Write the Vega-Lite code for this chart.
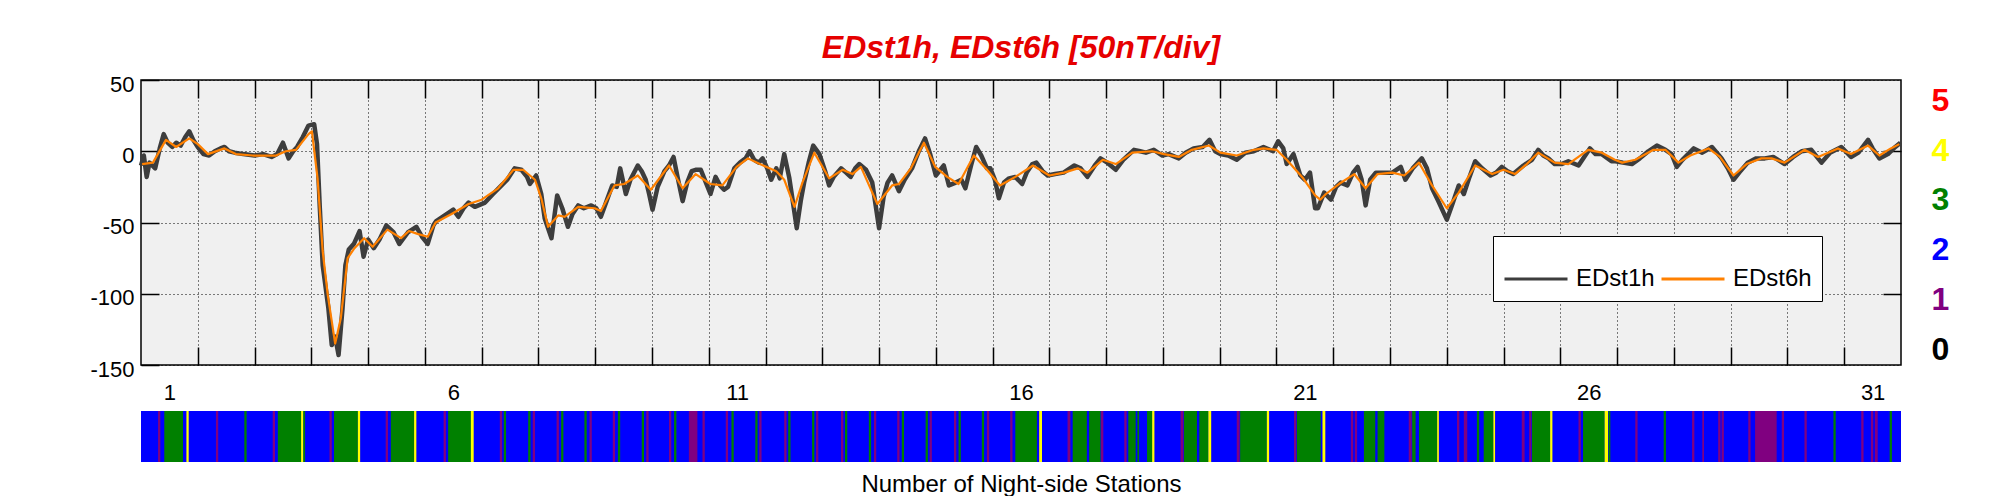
{
  "$schema": "https://vega.github.io/schema/vega-lite/v6.json",
  "autosize": {"type": "pad"},
  "padding": {"left": 0, "top": 31, "right": 0, "bottom": 0},
  "background": "white",
  "spacing": 0,
  "config": {
    "font": "Liberation Sans",
    "view": {"stroke": null},
    "axis": {"labelFont": "Liberation Sans", "titleFont": "Liberation Sans", "labelColor": "#000000", "titleColor": "#000000"},
    "legend": {"labelFont": "Liberation Sans"}
  },
  "datasets": {
    "edst": [
      {"t":1.00,"v":-10,"s":"EDst1h"},{"t":1.05,"v":-3,"s":"EDst1h"},{"t":1.10,"v":-18,"s":"EDst1h"},{"t":1.15,"v":-8,"s":"EDst1h"},{"t":1.25,"v":-12,"s":"EDst1h"},{"t":1.33,"v":2,"s":"EDst1h"},{"t":1.40,"v":12,"s":"EDst1h"},{"t":1.47,"v":6,"s":"EDst1h"},{"t":1.55,"v":3,"s":"EDst1h"},{"t":1.62,"v":6,"s":"EDst1h"},{"t":1.70,"v":4,"s":"EDst1h"},{"t":1.78,"v":10,"s":"EDst1h"},{"t":1.85,"v":14,"s":"EDst1h"},{"t":1.92,"v":8,"s":"EDst1h"},{"t":2.00,"v":3,"s":"EDst1h"},{"t":2.10,"v":-2,"s":"EDst1h"},{"t":2.20,"v":-3,"s":"EDst1h"},{"t":2.30,"v":0,"s":"EDst1h"},{"t":2.40,"v":2,"s":"EDst1h"},{"t":2.47,"v":3,"s":"EDst1h"},{"t":2.55,"v":0,"s":"EDst1h"},{"t":2.65,"v":-1,"s":"EDst1h"},{"t":2.80,"v":-2,"s":"EDst1h"},{"t":3.00,"v":-3,"s":"EDst1h"},{"t":3.15,"v":-2,"s":"EDst1h"},{"t":3.30,"v":-4,"s":"EDst1h"},{"t":3.40,"v":-2,"s":"EDst1h"},{"t":3.50,"v":6,"s":"EDst1h"},{"t":3.60,"v":-5,"s":"EDst1h"},{"t":3.68,"v":0,"s":"EDst1h"},{"t":3.75,"v":3,"s":"EDst1h"},{"t":3.85,"v":10,"s":"EDst1h"},{"t":3.95,"v":18,"s":"EDst1h"},{"t":4.05,"v":19,"s":"EDst1h"},{"t":4.10,"v":5,"s":"EDst1h"},{"t":4.15,"v":-40,"s":"EDst1h"},{"t":4.20,"v":-80,"s":"EDst1h"},{"t":4.30,"v":-110,"s":"EDst1h"},{"t":4.36,"v":-136,"s":"EDst1h"},{"t":4.42,"v":-130,"s":"EDst1h"},{"t":4.48,"v":-143,"s":"EDst1h"},{"t":4.55,"v":-110,"s":"EDst1h"},{"t":4.60,"v":-80,"s":"EDst1h"},{"t":4.66,"v":-69,"s":"EDst1h"},{"t":4.75,"v":-65,"s":"EDst1h"},{"t":4.85,"v":-56,"s":"EDst1h"},{"t":4.92,"v":-74,"s":"EDst1h"},{"t":5.00,"v":-62,"s":"EDst1h"},{"t":5.10,"v":-68,"s":"EDst1h"},{"t":5.20,"v":-62,"s":"EDst1h"},{"t":5.32,"v":-52,"s":"EDst1h"},{"t":5.45,"v":-57,"s":"EDst1h"},{"t":5.55,"v":-65,"s":"EDst1h"},{"t":5.70,"v":-57,"s":"EDst1h"},{"t":5.85,"v":-53,"s":"EDst1h"},{"t":5.95,"v":-60,"s":"EDst1h"},{"t":6.05,"v":-65,"s":"EDst1h"},{"t":6.15,"v":-52,"s":"EDst1h"},
      {"t":6.20,"v":-49,"s":"EDst1h"},{"t":6.35,"v":-45,"s":"EDst1h"},{"t":6.50,"v":-41,"s":"EDst1h"},{"t":6.59,"v":-46,"s":"EDst1h"},{"t":6.68,"v":-40,"s":"EDst1h"},{"t":6.77,"v":-36,"s":"EDst1h"},{"t":6.88,"v":-39,"s":"EDst1h"},{"t":7.06,"v":-36,"s":"EDst1h"},{"t":7.20,"v":-30,"s":"EDst1h"},{"t":7.35,"v":-24,"s":"EDst1h"},{"t":7.45,"v":-20,"s":"EDst1h"},{"t":7.58,"v":-12,"s":"EDst1h"},{"t":7.70,"v":-13,"s":"EDst1h"},{"t":7.80,"v":-18,"s":"EDst1h"},{"t":7.85,"v":-23,"s":"EDst1h"},{"t":7.96,"v":-17,"s":"EDst1h"},{"t":8.05,"v":-30,"s":"EDst1h"},{"t":8.11,"v":-47,"s":"EDst1h"},{"t":8.23,"v":-61,"s":"EDst1h"},{"t":8.33,"v":-31,"s":"EDst1h"},{"t":8.42,"v":-40,"s":"EDst1h"},{"t":8.52,"v":-53,"s":"EDst1h"},{"t":8.60,"v":-44,"s":"EDst1h"},{"t":8.70,"v":-38,"s":"EDst1h"},{"t":8.80,"v":-40,"s":"EDst1h"},{"t":8.93,"v":-38,"s":"EDst1h"},{"t":9.02,"v":-40,"s":"EDst1h"},{"t":9.10,"v":-46,"s":"EDst1h"},{"t":9.20,"v":-35,"s":"EDst1h"},{"t":9.30,"v":-24,"s":"EDst1h"},{"t":9.38,"v":-25,"s":"EDst1h"},{"t":9.44,"v":-12,"s":"EDst1h"},{"t":9.54,"v":-30,"s":"EDst1h"},{"t":9.62,"v":-20,"s":"EDst1h"},{"t":9.75,"v":-10,"s":"EDst1h"},{"t":9.82,"v":-14,"s":"EDst1h"},{"t":9.89,"v":-20,"s":"EDst1h"},{"t":9.95,"v":-30,"s":"EDst1h"},{"t":10.01,"v":-41,"s":"EDst1h"},{"t":10.10,"v":-25,"s":"EDst1h"},{"t":10.22,"v":-14,"s":"EDst1h"},{"t":10.30,"v":-10,"s":"EDst1h"},{"t":10.38,"v":-4,"s":"EDst1h"},{"t":10.45,"v":-18,"s":"EDst1h"},{"t":10.54,"v":-35,"s":"EDst1h"},{"t":10.62,"v":-22,"s":"EDst1h"},{"t":10.70,"v":-14,"s":"EDst1h"},{"t":10.77,"v":-13,"s":"EDst1h"},{"t":10.86,"v":-13,"s":"EDst1h"},{"t":10.95,"v":-22,"s":"EDst1h"},{"t":11.03,"v":-30,"s":"EDst1h"},{"t":11.12,"v":-18,"s":"EDst1h"},{"t":11.20,"v":-24,"s":"EDst1h"},{"t":11.27,"v":-27,"s":"EDst1h"},
      {"t":11.34,"v":-25,"s":"EDst1h"},{"t":11.45,"v":-12,"s":"EDst1h"},{"t":11.55,"v":-8,"s":"EDst1h"},{"t":11.65,"v":-5,"s":"EDst1h"},{"t":11.72,"v":0,"s":"EDst1h"},{"t":11.80,"v":-6,"s":"EDst1h"},{"t":11.88,"v":-8,"s":"EDst1h"},{"t":11.95,"v":-5,"s":"EDst1h"},{"t":12.03,"v":-12,"s":"EDst1h"},{"t":12.10,"v":-20,"s":"EDst1h"},{"t":12.19,"v":-12,"s":"EDst1h"},{"t":12.25,"v":-19,"s":"EDst1h"},{"t":12.33,"v":-2,"s":"EDst1h"},{"t":12.42,"v":-19,"s":"EDst1h"},{"t":12.48,"v":-35,"s":"EDst1h"},{"t":12.55,"v":-54,"s":"EDst1h"},{"t":12.62,"v":-35,"s":"EDst1h"},{"t":12.68,"v":-22,"s":"EDst1h"},{"t":12.76,"v":-8,"s":"EDst1h"},{"t":12.84,"v":4,"s":"EDst1h"},{"t":12.95,"v":-2,"s":"EDst1h"},{"t":13.05,"v":-14,"s":"EDst1h"},{"t":13.12,"v":-24,"s":"EDst1h"},{"t":13.20,"v":-18,"s":"EDst1h"},{"t":13.33,"v":-12,"s":"EDst1h"},{"t":13.42,"v":-15,"s":"EDst1h"},{"t":13.50,"v":-18,"s":"EDst1h"},{"t":13.58,"v":-12,"s":"EDst1h"},{"t":13.65,"v":-9,"s":"EDst1h"},{"t":13.77,"v":-13,"s":"EDst1h"},{"t":13.88,"v":-22,"s":"EDst1h"},{"t":14.00,"v":-54,"s":"EDst1h"},{"t":14.08,"v":-32,"s":"EDst1h"},{"t":14.15,"v":-22,"s":"EDst1h"},{"t":14.23,"v":-17,"s":"EDst1h"},{"t":14.35,"v":-28,"s":"EDst1h"},{"t":14.45,"v":-20,"s":"EDst1h"},{"t":14.58,"v":-12,"s":"EDst1h"},{"t":14.70,"v":0,"s":"EDst1h"},{"t":14.81,"v":9,"s":"EDst1h"},{"t":14.90,"v":-2,"s":"EDst1h"},{"t":15.00,"v":-17,"s":"EDst1h"},{"t":15.14,"v":-10,"s":"EDst1h"},{"t":15.23,"v":-24,"s":"EDst1h"},{"t":15.35,"v":-22,"s":"EDst1h"},{"t":15.45,"v":-20,"s":"EDst1h"},{"t":15.52,"v":-26,"s":"EDst1h"},{"t":15.62,"v":-10,"s":"EDst1h"},{"t":15.71,"v":3,"s":"EDst1h"},{"t":15.80,"v":-3,"s":"EDst1h"},{"t":15.90,"v":-12,"s":"EDst1h"},{"t":15.96,"v":-12,"s":"EDst1h"},{"t":16.04,"v":-20,"s":"EDst1h"},{"t":16.11,"v":-33,"s":"EDst1h"},{"t":16.20,"v":-22,"s":"EDst1h"},{"t":16.29,"v":-19,"s":"EDst1h"},{"t":16.40,"v":-18,"s":"EDst1h"},{"t":16.52,"v":-23,"s":"EDst1h"},
      {"t":16.60,"v":-15,"s":"EDst1h"},{"t":16.70,"v":-9,"s":"EDst1h"},{"t":16.77,"v":-8,"s":"EDst1h"},{"t":16.88,"v":-14,"s":"EDst1h"},{"t":16.97,"v":-17,"s":"EDst1h"},{"t":17.10,"v":-16,"s":"EDst1h"},{"t":17.25,"v":-15,"s":"EDst1h"},{"t":17.44,"v":-10,"s":"EDst1h"},{"t":17.55,"v":-12,"s":"EDst1h"},{"t":17.67,"v":-18,"s":"EDst1h"},{"t":17.80,"v":-10,"s":"EDst1h"},{"t":17.90,"v":-5,"s":"EDst1h"},{"t":18.02,"v":-8,"s":"EDst1h"},{"t":18.17,"v":-13,"s":"EDst1h"},{"t":18.30,"v":-6,"s":"EDst1h"},{"t":18.49,"v":1,"s":"EDst1h"},{"t":18.60,"v":0,"s":"EDst1h"},{"t":18.70,"v":-1,"s":"EDst1h"},{"t":18.84,"v":1,"s":"EDst1h"},{"t":18.99,"v":-3,"s":"EDst1h"},{"t":19.10,"v":-2,"s":"EDst1h"},{"t":19.28,"v":-5,"s":"EDst1h"},{"t":19.40,"v":-1,"s":"EDst1h"},{"t":19.54,"v":2,"s":"EDst1h"},{"t":19.70,"v":3,"s":"EDst1h"},{"t":19.82,"v":8,"s":"EDst1h"},{"t":19.92,"v":0,"s":"EDst1h"},{"t":20.01,"v":-2,"s":"EDst1h"},{"t":20.15,"v":-3,"s":"EDst1h"},{"t":20.30,"v":-6,"s":"EDst1h"},{"t":20.45,"v":-1,"s":"EDst1h"},{"t":20.60,"v":0,"s":"EDst1h"},{"t":20.77,"v":3,"s":"EDst1h"},{"t":20.94,"v":0,"s":"EDst1h"},{"t":21.03,"v":7,"s":"EDst1h"},{"t":21.12,"v":2,"s":"EDst1h"},{"t":21.18,"v":-9,"s":"EDst1h"},{"t":21.30,"v":-2,"s":"EDst1h"},{"t":21.42,"v":-17,"s":"EDst1h"},{"t":21.50,"v":-20,"s":"EDst1h"},{"t":21.59,"v":-15,"s":"EDst1h"},{"t":21.68,"v":-40,"s":"EDst1h"},
      {"t":21.73,"v":-40,"s":"EDst1h"},{"t":21.84,"v":-29,"s":"EDst1h"},{"t":21.96,"v":-34,"s":"EDst1h"},{"t":22.05,"v":-25,"s":"EDst1h"},{"t":22.13,"v":-22,"s":"EDst1h"},{"t":22.25,"v":-24,"s":"EDst1h"},{"t":22.35,"v":-15,"s":"EDst1h"},{"t":22.43,"v":-11,"s":"EDst1h"},{"t":22.50,"v":-20,"s":"EDst1h"},{"t":22.57,"v":-38,"s":"EDst1h"},{"t":22.65,"v":-20,"s":"EDst1h"},{"t":22.75,"v":-15,"s":"EDst1h"},{"t":22.90,"v":-15,"s":"EDst1h"},{"t":23.04,"v":-15,"s":"EDst1h"},{"t":23.19,"v":-11,"s":"EDst1h"},{"t":23.27,"v":-20,"s":"EDst1h"},{"t":23.40,"v":-12,"s":"EDst1h"},{"t":23.56,"v":-5,"s":"EDst1h"},{"t":23.65,"v":-12,"s":"EDst1h"},{"t":23.74,"v":-26,"s":"EDst1h"},{"t":23.85,"v":-35,"s":"EDst1h"},{"t":24.00,"v":-48,"s":"EDst1h"},{"t":24.09,"v":-38,"s":"EDst1h"},{"t":24.21,"v":-24,"s":"EDst1h"},{"t":24.30,"v":-30,"s":"EDst1h"},{"t":24.40,"v":-18,"s":"EDst1h"},{"t":24.50,"v":-7,"s":"EDst1h"},{"t":24.62,"v":-12,"s":"EDst1h"},{"t":24.77,"v":-17,"s":"EDst1h"},{"t":24.87,"v":-15,"s":"EDst1h"},{"t":24.97,"v":-11,"s":"EDst1h"},{"t":25.07,"v":-14,"s":"EDst1h"},{"t":25.17,"v":-16,"s":"EDst1h"},{"t":25.35,"v":-10,"s":"EDst1h"},{"t":25.50,"v":-6,"s":"EDst1h"},{"t":25.61,"v":1,"s":"EDst1h"},{"t":25.70,"v":-3,"s":"EDst1h"},{"t":25.79,"v":-5,"s":"EDst1h"},{"t":25.90,"v":-9,"s":"EDst1h"},{"t":26.02,"v":-9,"s":"EDst1h"},{"t":26.14,"v":-7,"s":"EDst1h"},{"t":26.32,"v":-10,"s":"EDst1h"},{"t":26.52,"v":2,"s":"EDst1h"},{"t":26.62,"v":-2,"s":"EDst1h"},{"t":26.73,"v":-2,"s":"EDst1h"},{"t":26.90,"v":-7,"s":"EDst1h"},
      {"t":26.97,"v":-7,"s":"EDst1h"},{"t":27.10,"v":-8,"s":"EDst1h"},{"t":27.26,"v":-9,"s":"EDst1h"},{"t":27.40,"v":-5,"s":"EDst1h"},{"t":27.55,"v":0,"s":"EDst1h"},{"t":27.70,"v":4,"s":"EDst1h"},{"t":27.85,"v":1,"s":"EDst1h"},{"t":27.96,"v":-2,"s":"EDst1h"},{"t":28.05,"v":-11,"s":"EDst1h"},{"t":28.15,"v":-6,"s":"EDst1h"},{"t":28.35,"v":2,"s":"EDst1h"},{"t":28.50,"v":-1,"s":"EDst1h"},{"t":28.67,"v":3,"s":"EDst1h"},{"t":28.84,"v":-5,"s":"EDst1h"},{"t":28.95,"v":-12,"s":"EDst1h"},{"t":29.05,"v":-20,"s":"EDst1h"},{"t":29.15,"v":-15,"s":"EDst1h"},{"t":29.30,"v":-8,"s":"EDst1h"},{"t":29.45,"v":-5,"s":"EDst1h"},{"t":29.60,"v":-5,"s":"EDst1h"},{"t":29.75,"v":-4,"s":"EDst1h"},{"t":29.95,"v":-9,"s":"EDst1h"},{"t":30.10,"v":-4,"s":"EDst1h"},{"t":30.25,"v":0,"s":"EDst1h"},{"t":30.42,"v":1,"s":"EDst1h"},{"t":30.60,"v":-8,"s":"EDst1h"},{"t":30.75,"v":-1,"s":"EDst1h"},{"t":30.95,"v":3,"s":"EDst1h"},{"t":31.12,"v":-4,"s":"EDst1h"},{"t":31.25,"v":-1,"s":"EDst1h"},{"t":31.42,"v":8,"s":"EDst1h"},{"t":31.50,"v":2,"s":"EDst1h"},{"t":31.62,"v":-5,"s":"EDst1h"},{"t":31.77,"v":-2,"s":"EDst1h"},{"t":31.90,"v":3,"s":"EDst1h"},{"t":31.99,"v":6,"s":"EDst1h"},
      {"t":1.02,"v":-9,"s":"EDst6h"},{"t":1.21,"v":-8,"s":"EDst6h"},{"t":1.44,"v":8,"s":"EDst6h"},{"t":1.62,"v":3,"s":"EDst6h"},{"t":1.85,"v":9,"s":"EDst6h"},{"t":2.00,"v":5,"s":"EDst6h"},{"t":2.18,"v":-2,"s":"EDst6h"},{"t":2.47,"v":2,"s":"EDst6h"},{"t":2.67,"v":-2,"s":"EDst6h"},{"t":2.97,"v":-3,"s":"EDst6h"},{"t":3.38,"v":-3,"s":"EDst6h"},{"t":3.55,"v":0,"s":"EDst6h"},{"t":3.73,"v":1,"s":"EDst6h"},{"t":3.95,"v":12,"s":"EDst6h"},{"t":4.01,"v":14,"s":"EDst6h"},{"t":4.11,"v":-19,"s":"EDst6h"},{"t":4.20,"v":-70,"s":"EDst6h"},{"t":4.29,"v":-101,"s":"EDst6h"},{"t":4.42,"v":-135,"s":"EDst6h"},{"t":4.52,"v":-117,"s":"EDst6h"},{"t":4.64,"v":-75,"s":"EDst6h"},{"t":4.76,"v":-68,"s":"EDst6h"},{"t":4.93,"v":-61,"s":"EDst6h"},{"t":5.08,"v":-67,"s":"EDst6h"},{"t":5.34,"v":-55,"s":"EDst6h"},{"t":5.58,"v":-61,"s":"EDst6h"},{"t":5.72,"v":-56,"s":"EDst6h"},{"t":5.87,"v":-58,"s":"EDst6h"},{"t":6.05,"v":-60,"s":"EDst6h"},{"t":6.19,"v":-50,"s":"EDst6h"},{"t":6.47,"v":-44,"s":"EDst6h"},{"t":6.77,"v":-37,"s":"EDst6h"},{"t":7.00,"v":-34,"s":"EDst6h"},{"t":7.29,"v":-26,"s":"EDst6h"},{"t":7.56,"v":-13,"s":"EDst6h"},{"t":7.73,"v":-13,"s":"EDst6h"},{"t":7.94,"v":-20,"s":"EDst6h"},{"t":8.05,"v":-33,"s":"EDst6h"},{"t":8.17,"v":-53,"s":"EDst6h"},{"t":8.35,"v":-45,"s":"EDst6h"},{"t":8.46,"v":-46,"s":"EDst6h"},{"t":8.70,"v":-39,"s":"EDst6h"},{"t":8.99,"v":-40,"s":"EDst6h"},{"t":9.10,"v":-42,"s":"EDst6h"},{"t":9.34,"v":-24,"s":"EDst6h"},{"t":9.51,"v":-23,"s":"EDst6h"},{"t":9.75,"v":-17,"s":"EDst6h"},{"t":9.98,"v":-27,"s":"EDst6h"},{"t":10.30,"v":-10,"s":"EDst6h"},{"t":10.54,"v":-26,"s":"EDst6h"},{"t":10.77,"v":-16,"s":"EDst6h"},{"t":11.03,"v":-23,"s":"EDst6h"},{"t":11.24,"v":-24,"s":"EDst6h"},{"t":11.49,"v":-11,"s":"EDst6h"},{"t":11.69,"v":-5,"s":"EDst6h"},{"t":11.90,"v":-9,"s":"EDst6h"},{"t":12.19,"v":-14,"s":"EDst6h"},{"t":12.33,"v":-20,"s":"EDst6h"},{"t":12.51,"v":-39,"s":"EDst6h"},{"t":12.65,"v":-22,"s":"EDst6h"},{"t":12.86,"v":-1,"s":"EDst6h"},{"t":13.12,"v":-19,"s":"EDst6h"},{"t":13.36,"v":-13,"s":"EDst6h"},{"t":13.53,"v":-16,"s":"EDst6h"},{"t":13.68,"v":-11,"s":"EDst6h"},{"t":13.97,"v":-37,"s":"EDst6h"},{"t":14.23,"v":-24,"s":"EDst6h"},{"t":14.35,"v":-23,"s":"EDst6h"},{"t":14.56,"v":-12,"s":"EDst6h"},{"t":14.79,"v":6,"s":"EDst6h"},{"t":14.99,"v":-11,"s":"EDst6h"},{"t":15.20,"v":-18,"s":"EDst6h"},{"t":15.40,"v":-23,"s":"EDst6h"},{"t":15.67,"v":-3,"s":"EDst6h"},{"t":15.90,"v":-13,"s":"EDst6h"},{"t":16.13,"v":-24,"s":"EDst6h"},{"t":16.40,"v":-18,"s":"EDst6h"},{"t":16.71,"v":-10,"s":"EDst6h"},{"t":17.00,"v":-17,"s":"EDst6h"},{"t":17.26,"v":-15,"s":"EDst6h"},{"t":17.50,"v":-12,"s":"EDst6h"},{"t":17.67,"v":-15,"s":"EDst6h"},{"t":17.94,"v":-6,"s":"EDst6h"},{"t":18.17,"v":-9,"s":"EDst6h"},{"t":18.46,"v":-1,"s":"EDst6h"},{"t":18.81,"v":0,"s":"EDst6h"},{"t":19.02,"v":-2,"s":"EDst6h"},{"t":19.28,"v":-4,"s":"EDst6h"},{"t":19.51,"v":1,"s":"EDst6h"},{"t":19.81,"v":4,"s":"EDst6h"},{"t":20.01,"v":-1,"s":"EDst6h"},{"t":20.30,"v":-3,"s":"EDst6h"},{"t":20.60,"v":1,"s":"EDst6h"},{"t":20.77,"v":2,"s":"EDst6h"},{"t":21.00,"v":1,"s":"EDst6h"},{"t":21.18,"v":-6,"s":"EDst6h"},{"t":21.47,"v":-19,"s":"EDst6h"},{"t":21.68,"v":-31,"s":"EDst6h"},{"t":21.77,"v":-34,"s":"EDst6h"},{"t":21.87,"v":-30,"s":"EDst6h"},{"t":22.10,"v":-23,"s":"EDst6h"},{"t":22.37,"v":-16,"s":"EDst6h"},{"t":22.57,"v":-26,"s":"EDst6h"},{"t":22.78,"v":-16,"s":"EDst6h"},{"t":23.04,"v":-15,"s":"EDst6h"},{"t":23.25,"v":-17,"s":"EDst6h"},{"t":23.51,"v":-8,"s":"EDst6h"},{"t":23.74,"v":-24,"s":"EDst6h"},{"t":24.00,"v":-40,"s":"EDst6h"},{"t":24.21,"v":-29,"s":"EDst6h"},{"t":24.50,"v":-10,"s":"EDst6h"},{"t":24.80,"v":-16,"s":"EDst6h"},{"t":25.00,"v":-13,"s":"EDst6h"},{"t":25.20,"v":-16,"s":"EDst6h"},{"t":25.41,"v":-9,"s":"EDst6h"},{"t":25.61,"v":-1,"s":"EDst6h"},{"t":25.90,"v":-8,"s":"EDst6h"},{"t":26.14,"v":-9,"s":"EDst6h"},{"t":26.49,"v":1,"s":"EDst6h"},{"t":26.73,"v":-1,"s":"EDst6h"},{"t":26.96,"v":-6,"s":"EDst6h"},{"t":27.09,"v":-8,"s":"EDst6h"},{"t":27.32,"v":-6,"s":"EDst6h"},{"t":27.64,"v":1,"s":"EDst6h"},{"t":27.85,"v":1,"s":"EDst6h"},{"t":28.08,"v":-8,"s":"EDst6h"},{"t":28.29,"v":-3,"s":"EDst6h"},{"t":28.61,"v":2,"s":"EDst6h"},{"t":28.81,"v":-4,"s":"EDst6h"},{"t":29.05,"v":-17,"s":"EDst6h"},{"t":29.28,"v":-9,"s":"EDst6h"},{"t":29.54,"v":-5,"s":"EDst6h"},{"t":29.72,"v":-5,"s":"EDst6h"},{"t":29.95,"v":-8,"s":"EDst6h"},{"t":30.30,"v":1,"s":"EDst6h"},{"t":30.54,"v":-4,"s":"EDst6h"},{"t":30.89,"v":2,"s":"EDst6h"},{"t":31.12,"v":-2,"s":"EDst6h"},{"t":31.42,"v":4,"s":"EDst6h"},{"t":31.62,"v":-3,"s":"EDst6h"},{"t":31.82,"v":2,"s":"EDst6h"},{"t":31.97,"v":5,"s":"EDst6h"}
    ],
    "stations": [
      {"start":1.00,"end":32.00,"n":2},
      {"start":1.30,"end":1.34,"n":1},{"start":1.41,"end":1.74,"n":3},{"start":1.80,"end":1.84,"n":4},
      {"start":2.32,"end":2.36,"n":1},{"start":2.82,"end":2.86,"n":3},
      {"start":3.32,"end":3.36,"n":1},{"start":3.41,"end":3.82,"n":3},{"start":3.82,"end":3.86,"n":4},{"start":3.86,"end":3.89,"n":3},
      {"start":4.32,"end":4.36,"n":1},{"start":4.40,"end":4.82,"n":3},{"start":4.82,"end":4.86,"n":4},
      {"start":5.31,"end":5.35,"n":1},{"start":5.40,"end":5.81,"n":3},{"start":5.81,"end":5.85,"n":4},
      {"start":6.33,"end":6.37,"n":1},{"start":6.41,"end":6.81,"n":3},{"start":6.81,"end":6.86,"n":4},
      {"start":7.32,"end":7.36,"n":1},{"start":7.39,"end":7.43,"n":3},{"start":7.82,"end":7.86,"n":3},{"start":7.90,"end":7.94,"n":1},
      {"start":8.32,"end":8.36,"n":1},{"start":8.40,"end":8.44,"n":3},{"start":8.81,"end":8.85,"n":3},{"start":8.90,"end":8.94,"n":1},
      {"start":9.31,"end":9.35,"n":1},{"start":9.40,"end":9.44,"n":3},{"start":9.82,"end":9.86,"n":3},{"start":9.90,"end":9.94,"n":1},
      {"start":10.30,"end":10.34,"n":1},{"start":10.39,"end":10.43,"n":3},{"start":10.65,"end":10.80,"n":1},{"start":10.89,"end":10.93,"n":1},
      {"start":11.30,"end":11.34,"n":1},{"start":11.40,"end":11.44,"n":3},{"start":11.82,"end":11.86,"n":3},{"start":11.89,"end":11.93,"n":1},
      {"start":12.33,"end":12.37,"n":1},{"start":12.40,"end":12.44,"n":3},{"start":12.82,"end":12.86,"n":3},{"start":12.89,"end":12.93,"n":1},
      {"start":13.33,"end":13.37,"n":1},{"start":13.40,"end":13.44,"n":3},{"start":13.82,"end":13.86,"n":3},{"start":13.91,"end":13.95,"n":1},
      {"start":14.32,"end":14.36,"n":1},{"start":14.40,"end":14.44,"n":3},{"start":14.82,"end":14.86,"n":3},{"start":14.89,"end":14.93,"n":1},
      {"start":15.32,"end":15.36,"n":1},{"start":15.40,"end":15.44,"n":3},{"start":15.81,"end":15.85,"n":3},{"start":15.90,"end":15.94,"n":1},
      {"start":16.31,"end":16.35,"n":1},{"start":16.40,"end":16.78,"n":3},{"start":16.82,"end":16.87,"n":4},
      {"start":17.32,"end":17.37,"n":1},{"start":17.41,"end":17.66,"n":3},{"start":17.70,"end":17.90,"n":3},{"start":17.91,"end":17.95,"n":1},
      {"start":18.32,"end":18.36,"n":1},{"start":18.39,"end":18.52,"n":3},{"start":18.55,"end":18.58,"n":3},{"start":18.72,"end":18.81,"n":3},{"start":18.81,"end":18.85,"n":4},
      {"start":19.31,"end":19.36,"n":1},{"start":19.37,"end":19.60,"n":3},{"start":19.64,"end":19.80,"n":3},{"start":19.80,"end":19.85,"n":4},
      {"start":20.30,"end":20.35,"n":1},{"start":20.36,"end":20.83,"n":3},{"start":20.83,"end":20.87,"n":4},
      {"start":21.31,"end":21.35,"n":1},{"start":21.36,"end":21.78,"n":3},{"start":21.81,"end":21.86,"n":4},
      {"start":22.31,"end":22.35,"n":1},{"start":22.38,"end":22.42,"n":1},{"start":22.54,"end":22.74,"n":3},{"start":22.78,"end":22.90,"n":3},
      {"start":23.33,"end":23.38,"n":1},{"start":23.39,"end":23.45,"n":3},{"start":23.51,"end":23.83,"n":3},{"start":23.83,"end":23.86,"n":4},
      {"start":24.18,"end":24.22,"n":1},{"start":24.30,"end":24.36,"n":1},{"start":24.53,"end":24.57,"n":3},{"start":24.65,"end":24.82,"n":3},{"start":24.82,"end":24.85,"n":4},
      {"start":25.32,"end":25.37,"n":1},{"start":25.45,"end":25.49,"n":1},{"start":25.50,"end":25.82,"n":3},{"start":25.82,"end":25.86,"n":4},
      {"start":26.32,"end":26.36,"n":1},{"start":26.40,"end":26.78,"n":3},{"start":26.78,"end":26.84,"n":4},{"start":26.85,"end":26.88,"n":3},
      {"start":27.32,"end":27.36,"n":1},{"start":27.82,"end":27.86,"n":3},
      {"start":28.32,"end":28.36,"n":1},{"start":28.50,"end":28.53,"n":1},{"start":28.78,"end":28.82,"n":1},{"start":28.84,"end":28.88,"n":1},
      {"start":29.31,"end":29.35,"n":1},{"start":29.43,"end":29.81,"n":1},{"start":29.90,"end":29.94,"n":1},
      {"start":30.30,"end":30.34,"n":1},{"start":30.81,"end":30.85,"n":3},
      {"start":31.30,"end":31.34,"n":1},{"start":31.47,"end":31.51,"n":1},{"start":31.54,"end":31.59,"n":1},{"start":31.80,"end":31.84,"n":3}
    ]
  },
  "resolve": {"scale": {"color": "independent", "x": "independent"}},
  "vconcat": [
    {
      "width": 1760,
      "height": 285,
      "title": {"text": "EDst1h, EDst6h [50nT/div]", "color": "#e60000", "fontSize": 32, "fontWeight": "bold", "fontStyle": "italic", "font": "Liberation Sans", "anchor": "middle", "baseline": "alphabetic", "offset": -17},
      "view": {"fill": "#f0f0f0", "stroke": "#000000", "strokeWidth": 1.5},
      "resolve": {"scale": {"y": "independent"}, "axis": {"x": "independent", "y": "independent"}},
      "layer": [
        {
          "data": {"name": "edst"},
          "transform": [{"filter": "datum.s === 'EDst1h'"}],
          "mark": {"type": "line", "strokeJoin": "round", "strokeWidth": 4.5},
          "encoding": {
            "x": {"field": "t", "type": "quantitative", "scale": {"domain": [1, 32], "nice": false, "zero": false},
              "axis": {"orient": "bottom", "values": [1.5, 6.5, 11.5, 16.5, 21.5, 26.5, 31.5], "labelExpr": "'' + floor(datum.value)", "ticks": false, "domain": false, "grid": false, "labelPadding": 17, "labelFontSize": 22, "labelFlush": false, "labelOverlap": false, "title": null, "minExtent": 45, "maxExtent": 45}},
            "y": {"field": "v", "type": "quantitative", "scale": {"domain": [-150, 50], "nice": false, "zero": false},
              "axis": {"orient": "left", "values": [-150, -100, -50, 0, 50], "labelExpr": "'' + datum.value", "ticks": true, "tickSize": -18, "tickColor": "#000000", "tickWidth": 1.5, "labelPadding": 25, "labelOffset": 4, "labelFontSize": 22, "labelFlush": false, "labelOverlap": false, "domain": false, "grid": true, "gridColor": "#000000", "gridDash": [1, 3], "gridWidth": 1, "gridOpacity": 1, "title": null, "minExtent": 140, "maxExtent": 140}},
            "color": {"field": "s", "type": "nominal", "scale": {"domain": ["EDst1h", "EDst6h"], "range": ["#3d3d3d", "#ff8000"]},
              "legend": {"orient": "none", "legendX": 1352, "legendY": 156, "direction": "horizontal", "title": null, "symbolType": "stroke", "symbolSize": 3969, "symbolStrokeWidth": 3, "labelFontSize": 24, "labelColor": "#000000", "labelOffset": 7, "columnPadding": 0, "padding": 10, "strokeColor": "#000000", "fillColor": "#ffffff", "labelLimit": 0,
                "encoding": {"symbols": {"update": {"strokeWidth": {"signal": "datum.value === 'EDst1h' ? 4.5 : 2.2"}}}}}}
          }
        },
        {
          "data": {"name": "edst"},
          "transform": [{"filter": "datum.s === 'EDst6h'"}],
          "mark": {"type": "line", "strokeJoin": "round", "strokeWidth": 2.2},
          "encoding": {
            "x": {"field": "t", "type": "quantitative", "scale": {"domain": [1, 32], "nice": false, "zero": false},
              "axis": {"orient": "bottom", "values": [2,3,4,5,6,7,8,9,10,11,12,13,14,15,16,17,18,19,20,21,22,23,24,25,26,27,28,29,30,31], "labels": false, "ticks": true, "tickSize": -18, "tickColor": "#000000", "tickWidth": 1.5, "domain": false, "grid": true, "gridColor": "#000000", "gridDash": [1, 3], "gridWidth": 1, "gridOpacity": 1, "title": null, "minExtent": 0, "maxExtent": 0}},
            "y": {"field": "v", "type": "quantitative", "scale": {"domain": [-150, 50], "nice": false, "zero": false},
              "axis": {"orient": "right", "values": [-100, -50, 0], "labels": false, "ticks": true, "tickSize": -18, "tickColor": "#000000", "tickWidth": 1.5, "domain": false, "grid": false, "title": null, "minExtent": 0, "maxExtent": 0}},
            "color": {"field": "s", "type": "nominal", "scale": {"domain": ["EDst1h", "EDst6h"], "range": ["#3d3d3d", "#ff8000"]}}
          }
        },
        {
          "data": {"name": "stations"},
          "mark": {"type": "point", "opacity": 0},
          "encoding": {
            "x": {"field": "start", "type": "quantitative", "scale": {"domain": [1, 32], "nice": false, "zero": false},
              "axis": {"orient": "top", "values": [2,3,4,5,6,7,8,9,10,11,12,13,14,15,16,17,18,19,20,21,22,23,24,25,26,27,28,29,30,31], "labels": false, "ticks": true, "tickSize": -18, "tickColor": "#000000", "tickWidth": 1.5, "domain": false, "grid": false, "title": null, "minExtent": 0, "maxExtent": 0}},
            "y": {"field": "n", "type": "quantitative", "scale": {"domain": [-0.345, 5.375], "nice": false, "zero": false},
              "axis": {"orient": "right", "values": [0, 1, 2, 3, 4, 5], "labelExpr": "'' + datum.value", "ticks": false, "domain": false, "grid": false, "title": null, "labelPadding": 30, "labelOffset": 1.5, "labelAlign": "left", "labelFontSize": 32, "labelFontWeight": "bold", "labelFlush": false, "labelOverlap": false,
                "labelColor": {"condition": [
                  {"test": "datum.value === 5", "value": "#ff0000"},
                  {"test": "datum.value === 4", "value": "#ffff00"},
                  {"test": "datum.value === 3", "value": "#008000"},
                  {"test": "datum.value === 2", "value": "#0000ff"},
                  {"test": "datum.value === 1", "value": "#800080"}
                ], "value": "#000000"}}}
          }
        }
      ]
    },
    {
      "width": 1760,
      "height": 51,
      "data": {"name": "stations"},
      "mark": {"type": "rect"},
      "encoding": {
        "x": {"field": "start", "type": "quantitative", "scale": {"domain": [1, 32], "nice": false, "zero": false},
          "axis": {"title": "Number of Night-side Stations", "labels": false, "ticks": false, "domain": false, "grid": false, "titleFontSize": 24, "titleFontWeight": "normal", "titleColor": "#000000", "titlePadding": 10, "titleBaseline": "top", "minExtent": 0, "maxExtent": 0}},
        "x2": {"field": "end"},
        "color": {"field": "n", "type": "ordinal", "scale": {"domain": [0, 1, 2, 3, 4, 5], "range": ["#000000", "#800080", "#0000ff", "#008000", "#ffff00", "#ff0000"]}, "legend": null}
      }
    }
  ]
}
